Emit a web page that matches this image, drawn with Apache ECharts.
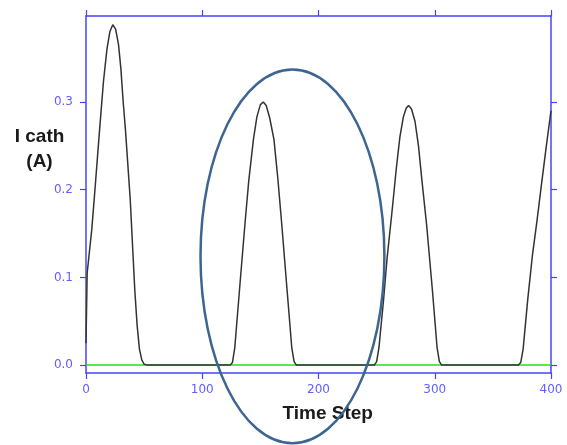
<!DOCTYPE html>
<html>
<head>
<meta charset="utf-8">
<script src="https://cdn.jsdelivr.net/npm/echarts@6/dist/echarts.min.js"></script>
<style>
html,body{margin:0;padding:0;background:#fff;}
#c{width:567px;height:445px;}
</style>
</head>
<body>
<div id="c"></div>
<script>
// ---- data ----
const timeStep = [
  0,1,5,8,11.5,15,18,20.5,23,25.5,28,30,32,34,38,42,44,46,48,50,53,
  124,126,128,132,136.8,140,144,147,150,152.5,155,158,161.7,165,168.3,173,177,179,181,
  248,250,252,256,259,263,267,270,273,275.5,277.5,280,283,286,289,293,298,302,304,306,
  372,374,376,380,384,388,392,396,400
];
const iCath = [
  0.025,0.105,0.155,0.205,0.265,0.323,0.36,0.38,0.388,0.383,0.365,0.338,0.3,0.267,0.19,0.085,0.045,0.018,0.006,0.001,0,
  0,0.003,0.02,0.085,0.162,0.21,0.257,0.283,0.297,0.3,0.296,0.282,0.257,0.213,0.162,0.085,0.02,0.004,0,
  0,0.004,0.02,0.075,0.122,0.172,0.225,0.26,0.283,0.293,0.296,0.292,0.278,0.25,0.21,0.16,0.085,0.02,0.004,0,
  0,0.003,0.018,0.075,0.125,0.165,0.208,0.25,0.29
];
const baseT = [0, 400];
const baseV = [0, 0];
const yTicks = [0, 0.1, 0.2, 0.3];
const xTicks = [0, 100, 200, 300, 400];
const yTitle = ['I cath', '(A)'];
const xTitle = 'Time Step';
// highlight ellipse (data units): centre t, centre I, half-width in t, half-height in I
const ring = {t: 177.6, v: 0.124, dt: 79.1, dv: 0.213};

const axisBlue = '#4444ff';
const labelBlue = '#6060ff';

const chart = echarts.init(document.getElementById('c'), null, {renderer: 'canvas'});

function xAx(pos, showLabel) {
  return {
    type: 'value', position: pos, min: xTicks[0], max: xTicks[xTicks.length-1], interval: 100,
    axisLine: {show: true, onZero: false, lineStyle: {color: axisBlue, width: 1.5}},
    axisTick: {show: true, inside: false, length: 6, lineStyle: {color: axisBlue, width: 1.2}},
    axisLabel: {show: showLabel, color: labelBlue, fontFamily: 'DejaVu Sans', fontSize: 12, margin: 11},
    splitLine: {show: false}
  };
}
function yAx(pos, showLabel) {
  return {
    type: 'value', position: pos, min: -0.009, max: 0.398,
    axisLine: {show: true, onZero: false, lineStyle: {color: axisBlue, width: 1.5}},
    axisTick: {show: true, inside: false, length: 6, customValues: yTicks, lineStyle: {color: axisBlue, width: 1.2}},
    axisLabel: {show: showLabel, customValues: yTicks, color: labelBlue, fontFamily: 'DejaVu Sans', fontSize: 12, margin: 13,
      formatter: v => Number(v).toFixed(1)},
    splitLine: {show: false}
  };
}

chart.setOption({
  backgroundColor: '#ffffff',
  animation: false,
  grid: {left: 86, right: 16, top: 16, bottom: 72},
  xAxis: [xAx('bottom', true), xAx('top', false)],
  yAxis: [yAx('left', true), yAx('right', false)],
  series: [
    {type: 'line', xAxisIndex: 0, yAxisIndex: 0, showSymbol: false, silent: true,
     data: baseT.map((t, i) => [t, baseV[i]]),
     lineStyle: {color: '#1fe01f', width: 1.5}},
    {type: 'line', xAxisIndex: 0, yAxisIndex: 0, showSymbol: false, silent: true,
     smooth: false,
     data: timeStep.map((t, i) => [t, iCath[i]]),
     lineStyle: {color: '#333333', width: 1.5}}
  ]
});

const c = chart.convertToPixel({xAxisIndex: 0, yAxisIndex: 0}, [ring.t, ring.v]);
const e = chart.convertToPixel({xAxisIndex: 0, yAxisIndex: 0}, [ring.t + ring.dt, ring.v + ring.dv]);

const titleFont = 'bold 19px "Liberation Sans", Arial, sans-serif';
chart.setOption({
  graphic: [
    {type: 'ellipse', z: 100, shape: {cx: c[0], cy: c[1], rx: Math.abs(e[0]-c[0]), ry: Math.abs(c[1]-e[1])},
     style: {fill: 'none', stroke: '#3d6592', lineWidth: 2.5}},
    {type: 'text', x: 39.5, y: 137, style: {text: yTitle[0], fill: '#1a1a1a', font: titleFont, align: 'center', verticalAlign: 'middle'}},
    {type: 'text', x: 39.5, y: 162, style: {text: yTitle[1], fill: '#1a1a1a', font: titleFont, align: 'center', verticalAlign: 'middle'}},
    {type: 'text', x: 327.7, y: 414, style: {text: xTitle, fill: '#1a1a1a', font: titleFont, align: 'center', verticalAlign: 'middle'}}
  ]
});
</script>
</body>
</html>
